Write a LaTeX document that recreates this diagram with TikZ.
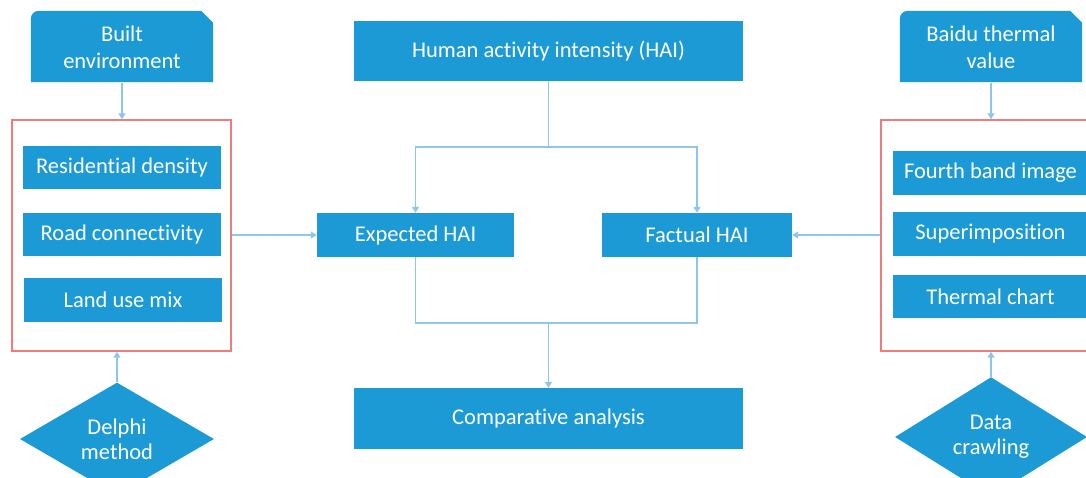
\documentclass[tikz,border=0pt]{standalone}
\usepackage{fontspec}
\setmainfont[Ligatures=NoCommon]{Carlito}
\usetikzlibrary{arrows.meta,shapes.geometric,backgrounds}
\definecolor{boxblue}{HTML}{1B9AD6}
\definecolor{lineblue}{HTML}{8EC5EA}
\definecolor{framered}{HTML}{F07B7B}
\begin{document}
\begin{tikzpicture}[x=1pt,y=1pt,
  txt/.style={text=white, inner sep=0pt, font=\fontsize{22.5}{27}\selectfont, align=center},
  bluebox/.style={txt, fill=boxblue},
  topbox/.style={txt, minimum width=182pt, minimum height=71pt},
  decision/.style={txt, fill=boxblue, shape=diamond, font=\fontsize{22.5}{25}\selectfont},
  frame/.style={draw=framered, line width=1.4pt, inner sep=0pt},
  conn/.style={draw=lineblue, line width=1.3pt},
  arr/.style={conn, -{Triangle[length=6pt,width=7pt]}},
]
\useasboundingbox (0,0) rectangle (1086,-477);
\clip (0,0) rectangle (1086,-477);

% frames
\node[frame, minimum width=219pt, minimum height=231pt] (lf) at (121.5,-235.5) {};
\node[frame, minimum width=214pt, minimum height=231pt] (rf) at (988,-235.5) {};

% top boxes
\node[topbox] (be) at (122,-47.5) {Built\\environment};
\node[topbox] (bt) at (991,-47.5) {Baidu thermal\\value};
\begin{scope}[on background layer]
\fill[boxblue] ([yshift=1pt]be.south west) -- ([yshift=-7pt]be.north west) arc[start angle=180,end angle=90,radius=8pt] -- ([xshift=-12pt,yshift=1pt]be.north east) -- ([yshift=-11pt]be.north east) -- ([yshift=1pt]be.south east) -- cycle;
\fill[boxblue] ([yshift=1pt]bt.south west) -- ([yshift=-7pt]bt.north west) arc[start angle=180,end angle=90,radius=8pt] -- ([xshift=-12pt,yshift=1pt]bt.north east) -- ([yshift=-11pt]bt.north east) -- ([yshift=1pt]bt.south east) -- cycle;
\end{scope}

% left items
\node[bluebox, minimum width=198pt, minimum height=43pt] (rd) at (122,-167.5) {Residential density};
\node[bluebox, minimum width=198pt, minimum height=43pt] (rc) at (122,-234.5) {Road connectivity};
\node[bluebox, minimum width=198pt, minimum height=44pt] (lu) at (123,-300) {Land use mix};

% right items
\node[bluebox, minimum width=195pt, minimum height=44pt] (fb) at (990.5,-173) {Fourth band image};
\node[bluebox, minimum width=195pt, minimum height=44pt] (si) at (990.5,-234) {Superimposition};
\node[bluebox, minimum width=195pt, minimum height=43pt] (tc) at (990.5,-296.5) {Thermal chart};

% center
\node[bluebox, minimum width=389pt, minimum height=60pt] (hai) at (548.5,-51) {Human activity intensity (HAI)};
\node[bluebox, minimum width=197pt, minimum height=44pt] (exp) at (415.5,-235) {Expected HAI};
\node[bluebox, minimum width=190pt, minimum height=44pt] (fac) at (697,-235) {Factual HAI};
\node[bluebox, minimum width=389pt, minimum height=61pt] (cmp) at (548.5,-418.5) {Comparative analysis};

% diamonds
\node[decision, minimum width=194pt, minimum height=92pt] (dm) at (117,-439) {Delphi\\method};
\node[decision, minimum width=192pt, minimum height=98pt] (dc) at (991,-437) {Data\\crawling};

% connectors
\draw[arr] (be.south) -- (be.south |- lf.north);
\draw[arr] (bt.south) -- (bt.south |- rf.north);
\draw[arr] (dm.north) -- (dm.north |- lf.south);
\draw[arr] (dc.north) -- (dc.north |- rf.south);
\draw[arr] (lf.east |- exp.west) -- (exp.west);
\draw[arr] (rf.west |- fac.east) -- (fac.east);

\coordinate (split) at (548.5,-147);
\coordinate (merge) at (548.5,-323);
\draw[conn] (hai.south) -- (split);
\draw[arr] (split) -| (exp.north);
\draw[arr] (split) -| (fac.north);
\draw[conn] (exp.south) -- (exp.south |- merge) -- (fac.south |- merge) -- (fac.south);
\draw[arr] (merge) -- (cmp.north);
\end{tikzpicture}
\end{document}
